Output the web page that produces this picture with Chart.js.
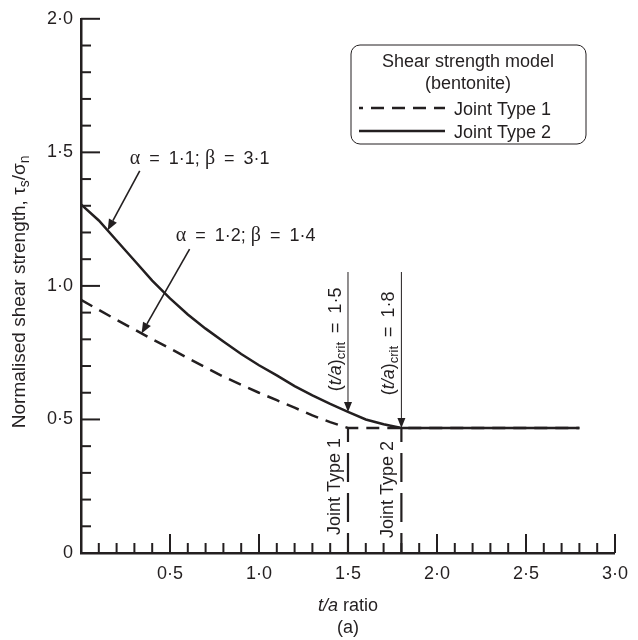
<!DOCTYPE html>
<html lang="en">
<head>
<meta charset="UTF-8">
<title>Normalised shear strength vs t/a ratio</title>
<script src="https://cdn.jsdelivr.net/npm/chart.js"></script>
<style>
  body { margin: 0; background: #fff; }
</style>
</head>
<body>
<canvas id="myChart" width="638" height="640"></canvas>
<script>
// values
const ratioType1 = [0, 0.1, 0.2, 0.3, 0.4, 0.5, 0.6, 0.7, 0.8, 0.9, 1.0, 1.1, 1.2, 1.3, 1.4, 1.5, 2.8];
const strengthType1 = [0.948, 0.91, 0.873, 0.837, 0.80, 0.766, 0.73, 0.695, 0.66, 0.63, 0.60, 0.572, 0.544, 0.515, 0.49, 0.468, 0.468];
const ratioType2 = [0, 0.1, 0.2, 0.3, 0.4, 0.5, 0.6, 0.7, 0.8, 0.9, 1.0, 1.1, 1.2, 1.3, 1.4, 1.5, 1.6, 1.7, 1.8, 2.8];
const strengthType2 = [1.305, 1.245, 1.17, 1.095, 1.02, 0.953, 0.893, 0.84, 0.792, 0.745, 0.703, 0.665, 0.625, 0.59, 0.558, 0.528, 0.50, 0.482, 0.468, 0.468];
const seriesLabels = ['Joint Type 1', 'Joint Type 2'];
const legendTitle = ['Shear strength model', '(bentonite)'];
const critRatios = [1.5, 1.8];
const critLabels = ['1·5', '1·8'];
const fitLabels = ['α = 1·1; β = 3·1', 'α = 1·2; β = 1·4'];
const xTickLabels = ['', '0·5', '1·0', '1·5', '2·0', '2·5', '3·0'];
const yTickLabels = ['0', '0·5', '1·0', '1·5', '2·0'];

const INK = '#231f20';
const SANS = "'Liberation Sans', Arial, sans-serif";
const SERIF = "'Liberation Serif', 'Times New Roman', serif";
const FS = 18;
const WIDE = '\u2002'; // en space round the "=" signs, as in the figure

// draw a run of text pieces: [text, font, dy]
function textParts(ctx, parts, x, y, align) {
    let w = 0;
    parts.forEach(p => { ctx.font = p[1]; w += ctx.measureText(p[0]).width; });
    let cx = align === 'center' ? x - w / 2 : (align === 'right' ? x - w : x);
    ctx.textAlign = 'left';
    parts.forEach(p => {
        ctx.font = p[1];
        ctx.fillText(p[0], cx, y + (p[2] || 0));
        cx += ctx.measureText(p[0]).width;
    });
}

function arrow(ctx, x1, y1, x2, y2, len, half) {
    const a = Math.atan2(y2 - y1, x2 - x1);
    const bx = x2 - len * Math.cos(a), by = y2 - len * Math.sin(a);
    ctx.beginPath(); ctx.moveTo(x1, y1); ctx.lineTo(bx, by); ctx.stroke();
    ctx.beginPath(); ctx.moveTo(x2, y2);
    ctx.lineTo(bx + half * Math.sin(a), by - half * Math.cos(a));
    ctx.lineTo(bx - half * Math.sin(a), by + half * Math.cos(a));
    ctx.closePath(); ctx.fill();
}

// greek letters in serif, rest in sans
function fitParts(label) {
    return label.replace(/ = /g, WIDE + '=' + WIDE).split(/([αβ])/).filter(s => s).map(s =>
        /[αβ]/.test(s) ? [s, `${FS + 2}px ${SERIF}`] : [s, `${FS}px ${SANS}`]);
}

const decorations = {
    id: 'decorations',
    afterDraw(chart) {
        const ctx = chart.ctx;
        const xs = chart.scales.x, ys = chart.scales.y;
        const area = chart.chartArea;
        ctx.save();
        ctx.strokeStyle = INK;
        ctx.fillStyle = INK;
        ctx.textBaseline = 'middle';

        // inward ticks
        ctx.lineWidth = 2;
        for (let j = 1; j <= 30; j++) {
            const px = xs.getPixelForValue(j / 10);
            const len = j % 5 === 0 ? 19 : 10;
            ctx.beginPath(); ctx.moveTo(px, area.bottom); ctx.lineTo(px, area.bottom - len); ctx.stroke();
        }
        for (let j = 1; j <= 20; j++) {
            const py = ys.getPixelForValue(j / 10);
            const len = j % 5 === 0 ? 19 : 10;
            ctx.beginPath(); ctx.moveTo(area.left, py); ctx.lineTo(area.left + len, py); ctx.stroke();
        }

        // fit annotations with arrows
        const fits = [
            { text: [0.667, 1.476], from: [0.33, 1.431], to: [0.15, 1.208] },
            { text: [0.925, 1.186], from: [0.61, 1.138], to: [0.34, 0.822] }
        ];
        ctx.lineWidth = 1.6;
        fits.forEach((f, i) => {
            textParts(ctx, fitParts(fitLabels[i]), xs.getPixelForValue(f.text[0]), ys.getPixelForValue(f.text[1]), 'center');
            arrow(ctx, xs.getPixelForValue(f.from[0]), ys.getPixelForValue(f.from[1]),
                xs.getPixelForValue(f.to[0]), ys.getPixelForValue(f.to[1]), 11, 4.5);
        });

        // critical ratio markers
        const flat = strengthType1[strengthType1.length - 1];
        const critCentres = [0.80, 0.785];
        const jointCentres = [0.249, 0.238];
        critRatios.forEach((xv, i) => {
            const px = xs.getPixelForValue(xv);
            const k = ratioType2.findIndex(r => Math.abs(r - xv) < 1e-9);
            const tipY = ys.getPixelForValue(strengthType2[k]);
            ctx.lineWidth = 1;
            ctx.setLineDash([]);
            arrow(ctx, px, ys.getPixelForValue(1.052), px, tipY, 10, 4);
            ctx.lineWidth = 2.2;
            ctx.setLineDash([29, 11]);
            ctx.lineDashOffset = 9;
            ctx.beginPath(); ctx.moveTo(px, area.bottom); ctx.lineTo(px, ys.getPixelForValue(flat)); ctx.stroke();
            ctx.setLineDash([]);

            ctx.save();
            ctx.translate(px - 12, ys.getPixelForValue(critCentres[i]));
            ctx.rotate(-Math.PI / 2);
            textParts(ctx, [
                ['(', `${FS}px ${SANS}`],
                ['t/a', `italic ${FS}px ${SANS}`],
                [')', `${FS}px ${SANS}`],
                ['crit', `${FS - 5}px ${SANS}`, 5],
                [WIDE + '=' + WIDE + critLabels[i], `${FS}px ${SANS}`]
            ], 0, 0, 'center');
            ctx.restore();

            ctx.save();
            ctx.translate(px - 13, ys.getPixelForValue(jointCentres[i]));
            ctx.rotate(-Math.PI / 2);
            textParts(ctx, [[seriesLabels[i], `${FS}px ${SANS}`]], 0, 0, 'center');
            ctx.restore();
        });

        // legend box
        const bx = 351, by = 45, bw = 235, bh = 99, r = 9;
        ctx.lineWidth = 1;
        ctx.beginPath();
        ctx.moveTo(bx + r, by);
        ctx.arcTo(bx + bw, by, bx + bw, by + bh, r);
        ctx.arcTo(bx + bw, by + bh, bx, by + bh, r);
        ctx.arcTo(bx, by + bh, bx, by, r);
        ctx.arcTo(bx, by, bx + bw, by, r);
        ctx.closePath();
        ctx.stroke();
        textParts(ctx, [[legendTitle[0], `${FS}px ${SANS}`]], 468, 62, 'center');
        textParts(ctx, [[legendTitle[1], `${FS}px ${SANS}`]], 468, 84, 'center');
        chart.data.datasets.slice().sort((a, b) => a.label.localeCompare(b.label)).forEach((ds, i) => {
            const ly = 108 + i * 23;
            ctx.lineWidth = ds.borderWidth;
            ctx.setLineDash(ds.borderDash || []);
            ctx.beginPath(); ctx.moveTo(359, ly); ctx.lineTo(445, ly); ctx.stroke();
            ctx.setLineDash([]);
            textParts(ctx, [[ds.label, `${FS}px ${SANS}`]], 454, ly + 2, 'left');
        });

        // axis titles
        ctx.save();
        ctx.translate(20, (area.top + area.bottom) / 2 + 6);
        ctx.rotate(-Math.PI / 2);
        textParts(ctx, [
            ['Normalised shear strength, τ', `${FS + 1}px ${SANS}`],
            ['s', `${FS - 4}px ${SANS}`, 5],
            ['/σ', `${FS + 1}px ${SANS}`],
            ['n', `${FS - 4}px ${SANS}`, 5]
        ], 0, 0, 'center');
        ctx.restore();
        const cx = (area.left + area.right) / 2;
        textParts(ctx, [['t/a', `italic ${FS}px ${SANS}`], [' ratio', `${FS}px ${SANS}`]], cx, 606, 'center');
        textParts(ctx, [['(a)', `${FS}px ${SANS}`]], cx, 628, 'center');
        ctx.restore();
    }
};

const ctx = document.getElementById('myChart').getContext('2d');
const myChart = new Chart(ctx, {
    type: 'line',
    data: {
        datasets: [{
            label: seriesLabels[0],
            data: ratioType1.map((r, i) => ({ x: r, y: strengthType1[i] })),
            borderColor: INK,
            borderWidth: 2.5,
            borderDash: [13, 8],
            pointRadius: 0,
            tension: 0,
            order: 1
        }, {
            label: seriesLabels[1],
            data: ratioType2.map((r, i) => ({ x: r, y: strengthType2[i] })),
            borderColor: INK,
            borderWidth: 2.5,
            pointRadius: 0,
            tension: 0,
            order: 0
        }]
    },
    options: {
        responsive: false,
        animation: false,
        layout: { padding: { left: 0, right: 20, top: 15, bottom: 0 } },
        plugins: { legend: { display: false }, tooltip: { enabled: false } },
        scales: {
            x: {
                type: 'linear', min: 0, max: 3,
                afterFit: s => { s.height = 87; },
                grid: { display: false, drawTicks: false },
                border: { display: true, color: INK, width: 2.5 },
                ticks: {
                    stepSize: 0.5, autoSkip: false, maxRotation: 0, padding: 10,
                    color: INK, font: { family: SANS, size: FS },
                    callback: v => xTickLabels[Math.round(v * 2)]
                }
            },
            y: {
                type: 'linear', min: 0, max: 2,
                afterFit: s => { s.width = 81; },
                grid: { display: false, drawTicks: false },
                border: { display: true, color: INK, width: 2.5 },
                ticks: {
                    stepSize: 0.5, autoSkip: false, padding: 8,
                    color: INK, font: { family: SANS, size: FS },
                    callback: v => yTickLabels[Math.round(v * 2)]
                }
            }
        }
    },
    plugins: [decorations]
});
</script>
</body>
</html>
